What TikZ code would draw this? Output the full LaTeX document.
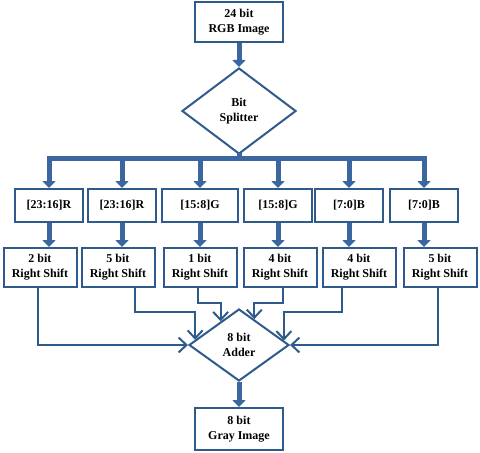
\documentclass[tikz,border=0pt]{standalone}
\usepackage{fontspec}
\setmainfont{Liberation Serif}
\usetikzlibrary{arrows.meta,shapes.geometric,calc}
\definecolor{edgeblue}{HTML}{2F5A8C}
\definecolor{flowblue}{HTML}{3B66A0}
\tikzset{box/.style={draw=edgeblue,line width=2pt,fill=white,align=center,inner sep=0pt,minimum width=68pt,minimum height=33pt,font=\bfseries\fontsize{12}{15}\selectfont},
decide/.style={diamond,draw=edgeblue,line width=2pt,fill=white,align=center,inner sep=0pt,font=\bfseries\fontsize{12}{15}\selectfont},
flow/.style={draw=flowblue,line width=5pt,-{Triangle[length=7pt,width=13pt]}},
bus/.style={draw=flowblue,line width=5pt,line cap=rect},
wire/.style={draw=edgeblue,line width=2pt,-{Straight Barb[length=8pt,width=15pt]}}}
\begin{document}
\begin{tikzpicture}[x=1pt,y=-1pt]
\useasboundingbox (0,0) rectangle (480,453);
\node[box,minimum width=88pt,minimum height=40pt] (rgb) at (239,22) {24 bit\\RGB Image};
\node[decide,minimum width=114pt,minimum height=86pt] (split) at (239,111) {Bit\\Splitter};
\coordinate (busL) at (49,158);
\coordinate (busR) at (424,158);
\node[box] (c1) at (49,205.5) {[23:16]R};
\node[box] (c2) at (122,205.5) {[23:16]R};
\node[box,minimum width=76pt] (c3) at (200,205.5) {[15:8]G};
\node[box] (c4) at (278,205.5) {[15:8]G};
\node[box] (c5) at (349,205.5) {[7:0]B};
\node[box] (c6) at (424,205.5) {[7:0]B};
\node[box,minimum width=73pt,minimum height=39pt] (s1) at (40,267.5) {2 bit\\Right Shift};
\node[box,minimum width=73pt,minimum height=39pt] (s2) at (118,267.5) {5 bit\\Right Shift};
\node[box,minimum width=73pt,minimum height=39pt] (s3) at (200,267.5) {1 bit\\Right Shift};
\node[box,minimum width=73pt,minimum height=39pt] (s4) at (280,267.5) {4 bit\\Right Shift};
\node[box,minimum width=73pt,minimum height=39pt] (s5) at (359,267.5) {4 bit\\Right Shift};
\node[box,minimum width=73pt,minimum height=39pt] (s6) at (440,267.5) {5 bit\\Right Shift};
\node[decide,minimum width=100pt,minimum height=72pt] (adder) at (239,345) {8 bit\\Adder};
\node[box,minimum width=88pt,minimum height=42pt] (gray) at (239,429) {8 bit\\Gray Image};
% inputs on the upper edges of the adder
\coordinate (in2) at ($(adder.west)!0.14!(adder.north)$);
\coordinate (in3) at ($(adder.west)!0.64!(adder.north)$);
\coordinate (in4) at ($(adder.east)!0.7!(adder.north)$);
\coordinate (in5) at ($(adder.east)!0.12!(adder.north)$);
\draw[flow] (rgb) -- (split);
\draw[bus] (split.south) -- (split.south |- busL);
\draw[bus] (busL) -- (busR);
\draw[flow] (c1.north |- busL) -- (c1);
\draw[flow] (c2.north |- busL) -- (c2);
\draw[flow] (c3.north |- busL) -- (c3);
\draw[flow] (c4.north |- busL) -- (c4);
\draw[flow] (c5.north |- busL) -- (c5);
\draw[flow] (c6.north |- busL) -- (c6);
\draw[flow] (c1) -- (c1.south |- s1.north);
\draw[flow] (c2) -- (c2.south |- s2.north);
\draw[flow] (c3) -- (c3.south |- s3.north);
\draw[flow] (c4) -- (c4.south |- s4.north);
\draw[flow] (c5) -- (c5.south |- s5.north);
\draw[flow] (c6) -- (c6.south |- s6.north);
\draw[wire] ([xshift=-2pt]s1.south) |- (adder.west);
\draw[wire] ([xshift=17pt]s2.south) |- (in2 |- 0,312) -- (in2);
\draw[wire] ([xshift=-2pt]s3.south) |- (in3 |- 0,303) -- (in3);
\draw[wire] ([xshift=3pt]s4.south) |- (in4 |- 0,303) -- (in4);
\draw[wire] ([xshift=-17pt]s5.south) |- (in5 |- 0,312) -- (in5);
\draw[wire] ([xshift=-2pt]s6.south) |- (adder.east);
\draw[flow] (adder) -- (gray);
\end{tikzpicture}
\end{document}
